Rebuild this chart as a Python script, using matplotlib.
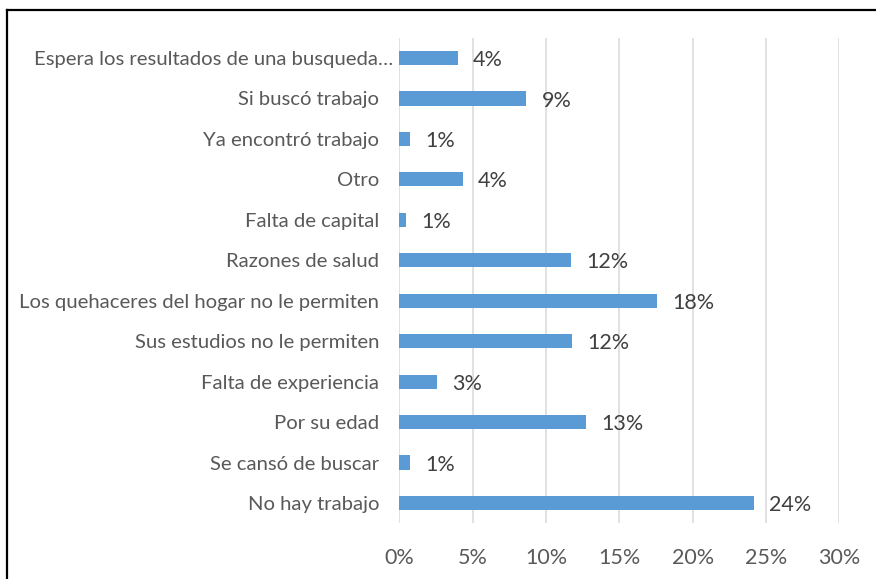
import matplotlib
matplotlib.use("Agg")
import matplotlib.pyplot as plt
from matplotlib.lines import Line2D
from matplotlib.transforms import ScaledTranslation

categories = [
    "Espera los resultados de una busqueda…",
    "Si buscó trabajo",
    "Ya encontró trabajo",
    "Otro",
    "Falta de capital",
    "Razones de salud",
    "Los quehaceres del hogar no le permiten",
    "Sus estudios no le permiten",
    "Falta de experiencia",
    "Por su edad",
    "Se cansó de buscar",
    "No hay trabajo",
]
values = [3.97, 8.66, 0.75, 4.34, 0.44, 11.68, 17.59, 11.8, 2.55, 12.75, 0.75, 24.18]
labels = ["4%", "9%", "1%", "4%", "1%", "12%", "18%", "12%", "3%", "13%", "1%", "24%"]
xticks = [0, 5, 10, 15, 20, 25, 30]
xticklabels = ["0%", "5%", "10%", "15%", "20%", "25%", "30%"]

plt.rcParams['font.family'] = ['Lato', 'DejaVu Sans']

fig = plt.figure(figsize=(8.76, 5.79), dpi=100)
ax = fig.add_axes([399.3/876, 1-523.2/579, (839.3-399.3)/876, (523.2-37.8)/579])

ypos = list(range(len(categories)))
ax.barh(ypos, values, height=0.35, color="#5B9BD5", zorder=3)
for y, v, lab in zip(ypos, values, labels):
    ax.annotate(lab, (v, y), xytext=(11, -1.5), textcoords="offset points",
                va="center", ha="left", fontsize=15.5, color="#404040")

ax.set_ylim(len(categories)-0.5, -0.5)
ax.set_xlim(0, 30)
ax.set_yticks(ypos)
ax.set_yticklabels(categories, fontsize=14.6, color="#595959")
ax.set_xticks(xticks)
ax.set_xticklabels(xticklabels, fontsize=15.5, color="#595959")
ax.tick_params(axis="both", length=0)
ax.tick_params(axis="y", pad=14.5)
ax.tick_params(axis="x", pad=18)
ax.grid(axis="x", color="#D9D9D9", linewidth=1.1, zorder=0)
for s in ax.spines.values():
    s.set_visible(False)

# first (truncated) label sits closer to the axis
lab0 = ax.get_yticklabels()[0]
lab0.set_transform(lab0.get_transform() + ScaledTranslation(10/72, 0, fig.dpi_scale_trans))

# outer frame (top and left edges visible)
fig.add_artist(Line2D([7/876, 1], [1-9.5/579, 1-9.5/579], transform=fig.transFigure, color="black", linewidth=1.6))
fig.add_artist(Line2D([7/876, 7/876], [0, 1-9.5/579], transform=fig.transFigure, color="black", linewidth=1.6))

fig.savefig("out.png", dpi=100)
